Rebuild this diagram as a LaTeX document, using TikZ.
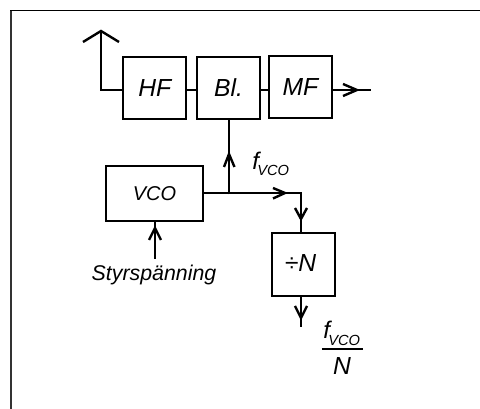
\documentclass[tikz,border=0pt]{standalone}
\usepackage{fontspec}
\setmainfont{Liberation Sans}
\tikzset{
  px/.style={x=0.75pt,y=-0.75pt},
  blockbox/.style={draw=black,line width=1.5pt,inner sep=0pt,minimum width=47pt,minimum height=46.5pt,font=\itshape\fontsize{18.5}{20}\selectfont},
  wire/.style={draw=black,line width=1.5pt},
  tick/.style={draw=black,line width=1.8pt},
  ftext/.style={inner sep=0pt,font=\itshape\fontsize{18}{20}\selectfont},
  sub/.style={inner sep=0pt,font=\itshape\fontsize{11}{12}\selectfont}
}
\begin{document}
\begin{tikzpicture}[px]
\useasboundingbox (0,0) rectangle (480,409);
\draw[line width=1pt,black!80] (11,409) -- (11,10.5);
\draw[line width=1pt] (10.5,10.5) -- (480,10.5);
\node[blockbox] (hf) at (154.7,88) {HF};
\node[blockbox] (bl) at (228.5,88) {Bl.};
\node[blockbox] (mf) at (300.5,86.7) {MF};
\node[blockbox,minimum width=72.5pt,minimum height=41pt,font=\itshape\fontsize{15}{16}\selectfont] (vco) at (154.5,193.5) {VCO};
\node[blockbox,minimum height=47pt] (div) at (303.5,264.5) {};
\node[inner sep=0pt,font=\itshape\fontsize{18.5}{20}\selectfont] (divl) at (300.5,263) {÷N};
\coordinate (ant) at (101,31);
\coordinate (out) at (371,90);
\coordinate (junc) at (229,194.5);
\coordinate (corner) at (301,193);
\coordinate (st) at (155,259);
\coordinate (dout) at (301,327);
\draw[wire] (ant) -- (101,90) -- (hf.west |- 0,90);
\draw[tick] (83,42) -- (ant) -- (119,42);
\draw[wire] (hf.east |- 0,90) -- (bl.west |- 0,90);
\draw[wire] (bl.east |- 0,90) -- (mf.west |- 0,90);
\draw[wire] (mf.east |- 0,90) -- (out);
\draw[tick] (343,84) -- (357,90) -- (343,96);
\draw[wire] (junc) -- (bl.south -| junc);
\draw[tick] (224,167) -- (229,154) -- (234.5,167);
\draw[wire] (vco.east |- 0,193) -- (corner) -- (div.north -| corner);
\draw[tick] (273,188) -- (285,193) -- (273,198.5);
\draw[tick] (295,208) -- (301,219) -- (307,208);
\draw[wire] (st) -- (vco.south -| st);
\draw[tick] (149,240) -- (155,228) -- (161,240);
\draw[wire] (div.south -| dout) -- (dout);
\draw[tick] (295,306) -- (301,318) -- (307,306);
\node[inner sep=0pt,anchor=base,font=\itshape\fontsize{16}{18}\selectfont] (s) at (154,281) {Styrspänning};
\node[ftext,anchor=base west] (f) at (252,170) {f};
\node[sub,anchor=base west] (fs) at (257,176) {VCO};
\node[ftext,anchor=base west] (g) at (323,339) {f};
\node[sub,anchor=base west] (gs) at (328,346) {VCO};
\node[inner sep=0pt,font=\itshape\fontsize{18.5}{20}\selectfont] (n) at (342,366) {N};
\draw[line width=1pt] (322,349) -- (363,349);
\end{tikzpicture}
\end{document}
